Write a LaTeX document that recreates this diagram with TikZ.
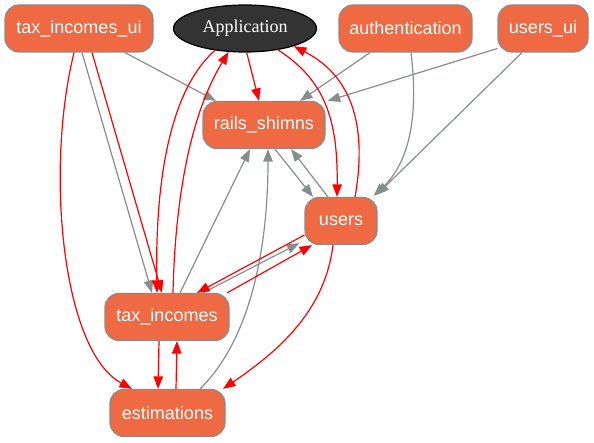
\documentclass[tikz,border=0pt]{standalone}
\usepackage{fontspec}
\setmainfont{Liberation Serif}
\setsansfont{Liberation Sans}
\usetikzlibrary{arrows.meta,shapes.geometric}

\definecolor{boxfill}{HTML}{EF6A42}
\definecolor{boxline}{HTML}{8A8A8A}
\definecolor{edgegray}{HTML}{878D8B}
\definecolor{appfill}{HTML}{333333}

\begin{document}
\begin{tikzpicture}[x=1pt, y=-1pt, >={Triangle[length=12.5pt, width=9.5pt]},
    box/.style={draw=boxline, line width=1.2pt, fill=boxfill, rounded corners=14pt,
        text=white, font=\sffamily\fontsize{18}{20}\selectfont,
        minimum height=47pt, inner sep=0pt},
    dep/.style={->, edgegray, line width=1.2pt},
    call/.style={->, red, line width=1.2pt}]
    \useasboundingbox (0,0) rectangle (594,443);

    % Nodes
    \node[box, minimum width=148pt] (tiu) at (79,28.5) {tax\_incomes\_ui};
    \node[ellipse, draw=black, line width=1.2pt, fill=appfill, text=white,
        font=\rmfamily\fontsize{18}{20}\selectfont,
        minimum width=143pt, minimum height=47pt, inner sep=0pt] (app) at (245,28.5) {Application};
    \node[box, minimum width=133pt] (auth) at (405.5,28.5) {authentication};
    \node[box, minimum width=90pt] (uui) at (543,28.5) {users\_ui};
    \node[box, minimum width=122pt] (rs) at (264,125) {rails\_shimns};
    \node[box, minimum width=72pt] (us) at (341,221) {users};
    \node[box, minimum width=124pt] (tin) at (167,317) {tax\_incomes};
    \node[box, minimum width=115pt] (est) at (167.5,413) {estimations};

    % Gray arrows
    \draw[dep] ([xshift=46pt]tiu.south) -- ([xshift=-48pt]rs.north);
    \draw[dep] ([xshift=-35.5pt]auth.south) -- ([xshift=36pt]rs.north);
    \draw[dep] ([xshift=5.5pt]auth.south) .. controls (418,110) and (412,160) .. ([xshift=-4pt,yshift=1pt]us.north east);
    \draw[dep] ([yshift=-20pt]uui.west) -- ([xshift=2pt]rs.north east);
    \draw[dep] ([xshift=-21pt]uui.south) -- ([xshift=-1pt,yshift=2pt]us.north east);
    \draw[dep] ([xshift=11pt]rs.south) -- ([xshift=-28pt]us.north);
    \draw[dep] ([xshift=-13pt]us.north) -- ([xshift=27pt]rs.south);
    \draw[dep] ([xshift=3pt]tiu.south) -- ([xshift=-15pt]tin.north);
    \draw[dep] ([xshift=13pt]tin.north) -- ([xshift=-14pt]rs.south);
    \draw[dep] ([xshift=36pt]tin.north) -- ([xshift=-5pt,yshift=2pt]us.south west);
    \draw[dep] ([xshift=32.5pt]est.north) .. controls (250,340) and (268,250) .. ([xshift=4pt]rs.south);

    % Red arrows
    \draw[call] (app.-86) -- ([xshift=-5pt]rs.north);
    \draw[call] (app.-33) .. controls (325,80) and (338,120) .. ([xshift=-4pt]us.north);
    \draw[call] ([xshift=14pt]us.north) .. controls (365,140) and (360,80) .. (app.-20);
    \draw[call] ([xshift=6pt]tin.north) .. controls (175,200) and (190,115) .. (app.-125);
    \draw[call] (app.-144) .. controls (170,90) and (155,180) .. ([xshift=-10pt]tin.north);
    \draw[call] ([xshift=13pt]tiu.south) -- ([xshift=-5pt]tin.north);
    \draw[call] ([xshift=-5pt]tiu.south) .. controls (45,170) and (62,351) .. ([xshift=-35.5pt]est.north);
    \draw[call] ([yshift=-14pt]us.west) -- ([xshift=30pt]tin.north);
    \draw[call] ([xshift=60pt]tin.north) -- ([xshift=-29pt]us.south);
    \draw[call] ([xshift=-8pt]us.south) .. controls (325,310) and (280,350) .. ([xshift=55.5pt]est.north);
    \draw[call] ([xshift=-8pt]tin.south) -- ([xshift=-9.5pt]est.north);
    \draw[call] ([xshift=8.5pt]est.north) -- ([xshift=10pt]tin.south);
\end{tikzpicture}
\end{document}
